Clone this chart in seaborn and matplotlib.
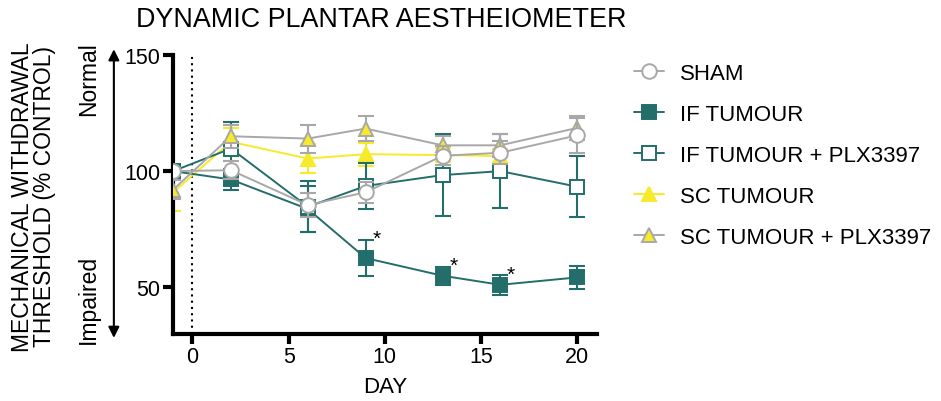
import matplotlib
matplotlib.use("Agg")
import matplotlib.pyplot as plt
import seaborn as sns
import numpy as np
import pandas as pd
from matplotlib.lines import Line2D

sns.set_style("white")
plt.rcParams['font.family'] = ['Liberation Sans', 'DejaVu Sans']
plt.rcParams['text.color'] = 'black'
plt.rcParams['axes.labelcolor'] = 'black'

days = [-1, 2, 6, 9, 13, 16, 20]
sham = [100, 100.4, 85.4, 90.9, 106.6, 107.9, 115.4]
sham_err = [1.5, 4, 5, 4.5, 4, 5, 7.5]
if_tum = [100, 96.4, 83.7, 62.6, 55.0, 51.1, 54.3]
if_tum_err = [1.5, 4.5, 10, 7.9, 3.8, 4.2, 5.0]
if_plx = [100, 109.7, 84.7, 93.6, 98.3, 100.0, 93.3]
if_plx_err = [1.5, 11.4, 11, 10, 17.5, 16, 13]
sc_days = [-1, 2, 6, 9, 13, 16]
sc_tum = [90.9, 112.6, 105.4, 107.3, 106.9, 106.5]
sc_tum_err = [8, 6, 6.4, 5, 3, 3]
sc_plx = [92.0, 115.0, 114.0, 118.3, 111.1, 111.1, 118.6]
sc_plx_err = [4, 5, 6, 5.3, 4, 5, 5]
series_names = ["SHAM", "IF TUMOUR", "IF TUMOUR + PLX3397", "SC TUMOUR", "SC TUMOUR + PLX3397"]
sig_days = [9, 13, 16]

TEAL = "#236e6a"
YEL = "#f7ea2a"
GREY = "#a8a8a8"

fig = plt.figure(figsize=(9.41, 4.02), dpi=100)
ax = fig.add_axes([0.184, 0.167, 0.450, 0.694])

styles = [
    dict(name=series_names[0], x=days, y=sham, e=sham_err, lc=GREY, marker="o", mfc="white", mec=GREY, z=6),
    dict(name=series_names[1], x=days, y=if_tum, e=if_tum_err, lc=TEAL, marker="s", mfc=TEAL, mec=TEAL, z=3),
    dict(name=series_names[2], x=days, y=if_plx, e=if_plx_err, lc=TEAL, marker="s", mfc="white", mec=TEAL, z=4),
    dict(name=series_names[3], x=sc_days, y=sc_tum, e=sc_tum_err, lc=YEL, marker="^", mfc=YEL, mec=YEL, z=2),
    dict(name=series_names[4], x=days, y=sc_plx, e=sc_plx_err, lc=GREY, marker="^", mfc=YEL, mec=GREY, z=5),
]

for s in styles:
    df = pd.DataFrame({"day": s["x"], "val": s["y"]})
    ax.errorbar(s["x"], s["y"], yerr=s["e"], fmt="none", ecolor=s["lc"], elinewidth=1.5,
                capsize=6, capthick=1.5, zorder=s["z"])
    sns.lineplot(data=df, x="day", y="val", ax=ax, color=s["lc"], linewidth=1.4,
                 marker=s["marker"], markersize=10.5, markerfacecolor=s["mfc"],
                 markeredgecolor=s["mec"], markeredgewidth=1.4, zorder=s["z"] + 0.5,
                 legend=False)

# significance stars
for d in sig_days:
    i = days.index(d)
    ax.text(d + 0.35, if_tum[i] + if_tum_err[i] + 0.5, "*", fontsize=15, ha="left",
            va="center", color="black")

ax.axvline(0, color="black", linestyle=(0, (1, 2)), linewidth=1.5, zorder=1)

ax.set_xlim(-1, 21)
ax.set_ylim(30, 150)
ax.set_xticks([0, 5, 10, 15, 20])
ax.set_yticks([50, 100, 150])
for side in ["top", "right"]:
    ax.spines[side].set_visible(False)
for side in ["left", "bottom"]:
    ax.spines[side].set_linewidth(3)
    ax.spines[side].set_color("black")
ax.tick_params(axis="both", direction="out", length=7, width=3, labelsize=15.5,
               colors="black", left=True, bottom=True, pad=2)
ax.set_xlabel("DAY", fontsize=16, labelpad=6)
ax.set_ylabel("")

fig.text(0.405, 0.95, "DYNAMIC PLANTAR AESTHEIOMETER", fontsize=19.4, ha="center", va="center")
fig.text(0.036, 0.51, "MECHANICAL WITHDRAWAL\nTHRESHOLD (% CONTROL)", fontsize=16.5,
         rotation=90, ha="center", va="center", linespacing=0.95)
fig.text(0.094, 0.895, "Normal", fontsize=16.5, rotation=90, ha="center", va="top")
fig.text(0.094, 0.145, "Impaired", fontsize=16.5, rotation=90, ha="center", va="bottom")
fig.add_artist(matplotlib.patches.FancyArrowPatch((0.121, 0.882), (0.121, 0.15),
               transform=fig.transFigure, arrowstyle="<|-|>", mutation_scale=16,
               color="black", linewidth=1.5))

handles = [Line2D([], [], color=s["lc"], marker=s["marker"], markersize=10.5,
                  markerfacecolor=s["mfc"], markeredgecolor=s["mec"], markeredgewidth=1.4,
                  linewidth=1.4) for s in styles]
fig.legend(handles, series_names, loc="upper left", bbox_to_anchor=(0.652, 0.89),
           frameon=False, fontsize=16, handlelength=1.35, labelspacing=0.9,
           handletextpad=0.75)

fig.savefig("out.png", dpi=100)
